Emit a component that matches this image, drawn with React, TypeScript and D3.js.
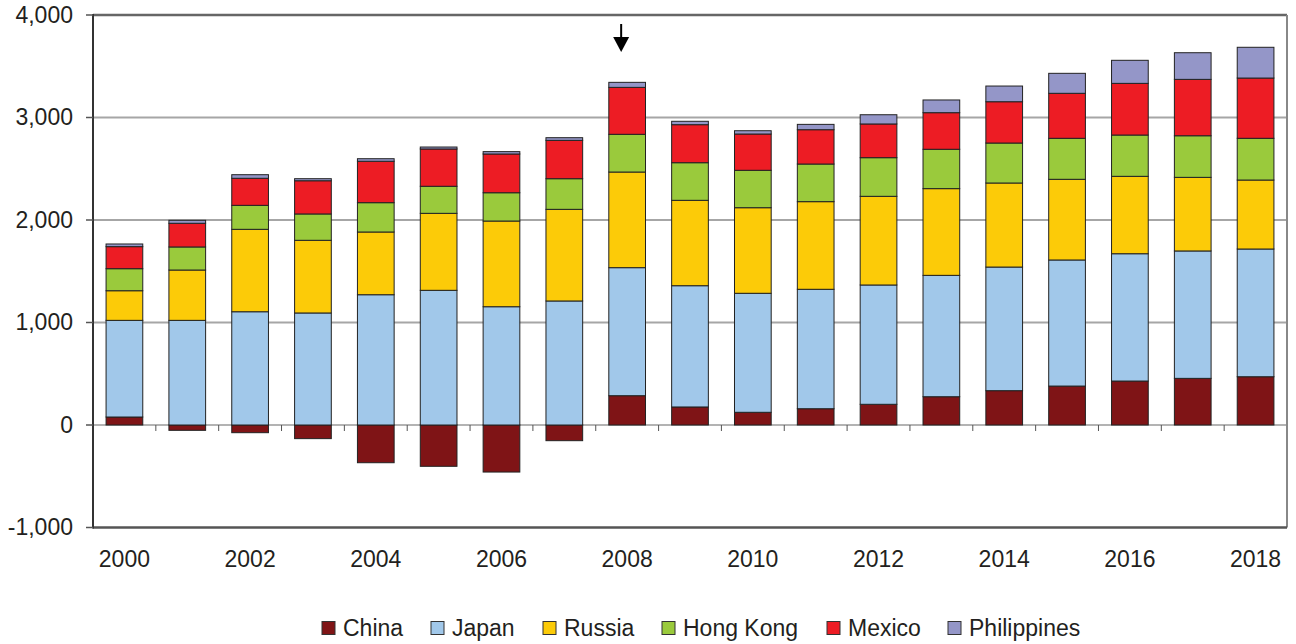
import React from "react";
import * as d3 from "d3";

const years = ["2000","2001","2002","2003","2004","2005","2006","2007","2008","2009","2010","2011","2012","2013","2014","2015","2016","2017","2018"];
const china = [78, -52, -75, -133, -368, -403, -459, -153, 286, 176, 124, 159, 202, 276, 335, 380, 429, 455, 471];
const japan = [943, 1021, 1105, 1093, 1271, 1314, 1154, 1210, 1249, 1183, 1161, 1165, 1164, 1184, 1206, 1230, 1242, 1243, 1246];
const russia = [289, 491, 804, 709, 612, 751, 836, 894, 933, 833, 835, 855, 865, 846, 820, 787, 755, 718, 673];
const hongKong = [215, 225, 234, 257, 286, 264, 276, 299, 368, 367, 365, 367, 377, 384, 390, 400, 403, 406, 407];
const mexico = [215, 231, 264, 324, 404, 364, 378, 374, 458, 371, 354, 335, 329, 357, 403, 439, 504, 550, 588];
const philippines = [26, 29, 35, 20, 25, 19, 23, 26, 49, 33, 32, 52, 90, 124, 153, 195, 225, 260, 300];

const seriesNames = ["China", "Japan", "Russia", "Hong Kong", "Mexico", "Philippines"];
const seriesColors = ["#7f1416", "#a1c8ea", "#fccb08", "#9aca3c", "#ed1c24", "#9496c8"];
const yTicks = [-1000, 0, 1000, 2000, 3000, 4000];
const xLabelYears = ["2000","2002","2004","2006","2008","2010","2012","2014","2016","2018"];
const arrowYear = "2008";

const W = 1296, H = 644;
const left = 93, right = 1287, top = 15, bottom = 527.5;
const FONT = "'Liberation Sans', Arial, sans-serif";

export default function App() {
  const allSeries = [china, japan, russia, hongKong, mexico, philippines];
  const table = years.map((y, i) => {
    const row: any = { year: y };
    seriesNames.forEach((n, k) => (row[n] = allSeries[k][i]));
    return row;
  });
  const stacked = d3.stack().keys(seriesNames).offset(d3.stackOffsetDiverging)(table);

  const pad = 0.416;
  const x = d3.scaleBand().domain(years).range([left, right]).paddingInner(pad).paddingOuter(pad / 2);
  const y = d3.scaleLinear().domain([-1000, 4000]).range([bottom, top]);
  const step = x.step();
  const bw = x.bandwidth();
  const fmt = (v: number) => d3.format(",")(v).replace("\u2212", "-");

  const legendFont = 23;
  const sq = 13;
  const legendWidths = [62, 65, 72, 118, 74, 114];
  const gapAfterSq = 8;
  const gapBetween = 26;
  let lx = 322;
  const legendItems = seriesNames.map((n, i) => {
    const item = { n, c: seriesColors[i], x: lx };
    lx += sq + gapAfterSq + legendWidths[i] + gapBetween;
    return item;
  });

  const ax = (x(arrowYear) as number) + bw / 2 - 6;

  return (
    <svg width={W} height={H} style={{ position: "absolute", left: 0, top: 0, background: "#fff" }} fontFamily={FONT}>
      {yTicks.filter(t => t !== 0 && t !== -1000 && t !== 4000).map(t => (
        <line key={"g" + t} x1={left} x2={right} y1={y(t)} y2={y(t)} stroke="#a6a6a6" strokeWidth={2} />
      ))}
      <line x1={left} x2={right} y1={y(0)} y2={y(0)} stroke="#9a9a9a" strokeWidth={1.5} />
      {years.map((yr, i) => i > 0 ? (
        <line key={"xt" + yr} x1={(x(yr) as number) - (step * pad) / 2} x2={(x(yr) as number) - (step * pad) / 2}
          y1={y(0)} y2={y(0) + 6} stroke="#555" strokeWidth={1} />
      ) : null)}
      {stacked.map((s, k) => (
        <g key={s.key}>
          {s.map((d, i) => {
            const y0 = y(d[0]), y1 = y(d[1]);
            const h = Math.abs(y0 - y1);
            if (h < 0.01) return null;
            return (
              <rect key={i} x={x(years[i])} y={Math.min(y0, y1)} width={bw} height={h}
                fill={seriesColors[k]} stroke="#222" strokeWidth={1} />
            );
          })}
        </g>
      ))}
      <line x1={left} x2={right} y1={top} y2={top} stroke="#666" strokeWidth={2.5} />
      <line x1={right} x2={right} y1={top} y2={bottom} stroke="#888" strokeWidth={2} />
      <line x1={left} x2={right} y1={bottom} y2={bottom} stroke="#555" strokeWidth={2.5} />
      <line x1={left} x2={left} y1={top - 1} y2={bottom + 1} stroke="#333" strokeWidth={2} />
      {yTicks.map(t => (
        <g key={"yt" + t}>
          <line x1={left - 7} x2={left} y1={y(t)} y2={y(t)} stroke="#555" strokeWidth={1.5} />
          <text x={73} y={y(t) + 7.8} textAnchor="end" fontSize={23} fill="#231f20">{fmt(t)}</text>
        </g>
      ))}
      {xLabelYears.map(yr => (
        <text key={"xl" + yr} x={(x(yr) as number) + bw / 2} y={566.5} textAnchor="middle" fontSize={23} fill="#231f20">{yr}</text>
      ))}
      <line x1={ax} x2={ax} y1={24} y2={40} stroke="#000" strokeWidth={2} />
      <path d={`M${ax - 8},37 L${ax + 8},37 L${ax},52 Z`} fill="#000" />
      {legendItems.map(it => (
        <g key={"lg" + it.n}>
          <rect x={it.x} y={621.5} width={sq} height={sq} fill={it.c} stroke="#333" strokeWidth={1} />
          <text x={it.x + sq + gapAfterSq} y={636} fontSize={legendFont} fill="#231f20">{it.n}</text>
        </g>
      ))}
    </svg>
  );
}
